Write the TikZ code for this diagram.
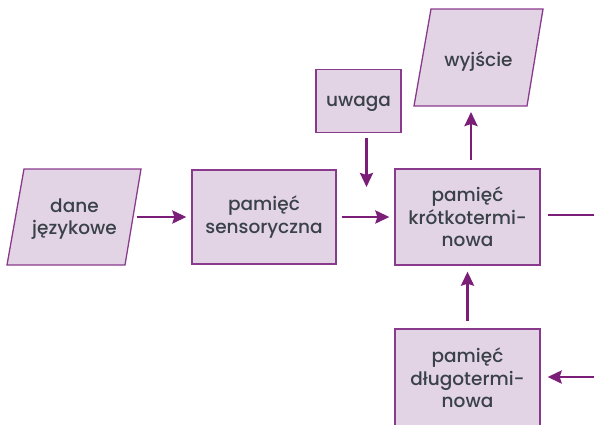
\documentclass[tikz,border=0pt]{standalone}
\usepackage{fontspec}
\setmainfont{Poppins Medium}
\usetikzlibrary{arrows.meta}
\definecolor{boxfill}{HTML}{E2D4E4}
\definecolor{boxline}{HTML}{8A3A8C}
\definecolor{arrcol}{HTML}{7A1E78}
\definecolor{txt}{HTML}{3A4148}
\begin{document}
\begin{tikzpicture}[x=1pt,y=-1pt,
  lbl/.style={text=txt,font=\fontsize{18.5}{22.5}\selectfont,align=center},
  box/.style={lbl,draw=boxline,fill=boxfill,line width=1.3pt,inner sep=0pt},
  ghost/.style={lbl,draw=none,inner sep=0pt},
  para/.style={draw=boxline,fill=boxfill,line width=1.3pt,line join=miter},
  arr/.style={draw=arrcol,line width=2.6pt,-{Stealth[length=14pt,width=13pt,inset=2pt]}},
  plain/.style={draw=arrcol,line width=2.6pt}]
\useasboundingbox (0,0) rectangle (594,424);
\begin{scope}
\clip (0,0) rectangle (594,424);
% parallelograms
\path[para] (24,169) -- (141,169) -- (125,265) -- (7,265) -- cycle;
\node[ghost,minimum width=117pt,minimum height=96pt] (dane) at (74.5,219) {dane\\językowe};
\path[para] (431,9) -- (543,9) -- (527,106) -- (414,106) -- cycle;
\node[ghost,minimum width=113pt,minimum height=97pt] (wy) at (478.5,61) {wyjście};
% boxes
\node[box,minimum width=144pt,minimum height=94pt] (sens) at (264,217) {pamięć\\sensoryczna};
\node[box,minimum width=85pt,minimum height=63pt,text depth=0pt] (uw) at (358.5,101) {uwaga};
\node[box,minimum width=145pt,minimum height=96pt] (stm) at (467.5,217) {pamięć\\krótkotermi-\\nowa};
\node[box,minimum width=145pt,minimum height=98pt] (ltm) at (467.5,378) {pamięć\\długotermi-\\nowa};
% free ends
\coordinate (uwend) at (366.5,187);
\coordinate (rightout) at (595,215);
\coordinate (rightin) at (595,377);
% connectors
\draw[arr,shorten <=4pt,shorten >=5pt] (dane.east |- 0,217) -- (sens.west);
\draw[arr,shorten <=5pt,shorten >=5pt] (sens.east) -- (stm.west);
\draw[arr,shorten <=5pt] ([xshift=8pt]uw.south) -- (uwend);
\draw[arr,shorten <=8pt,shorten >=6pt] ([xshift=3.5pt]stm.north) -- ([xshift=3.5pt]stm.north |- 0,106);
\draw[plain,shorten <=7.5pt] (stm.east |- rightout) -- (rightout);
\draw[arr,shorten <=7pt,shorten >=6pt] (ltm.north) -- (stm.south);
\draw[arr,shorten >=7pt] (rightin) -- (ltm.east |- rightin);
\end{scope}
\end{tikzpicture}
\end{document}
